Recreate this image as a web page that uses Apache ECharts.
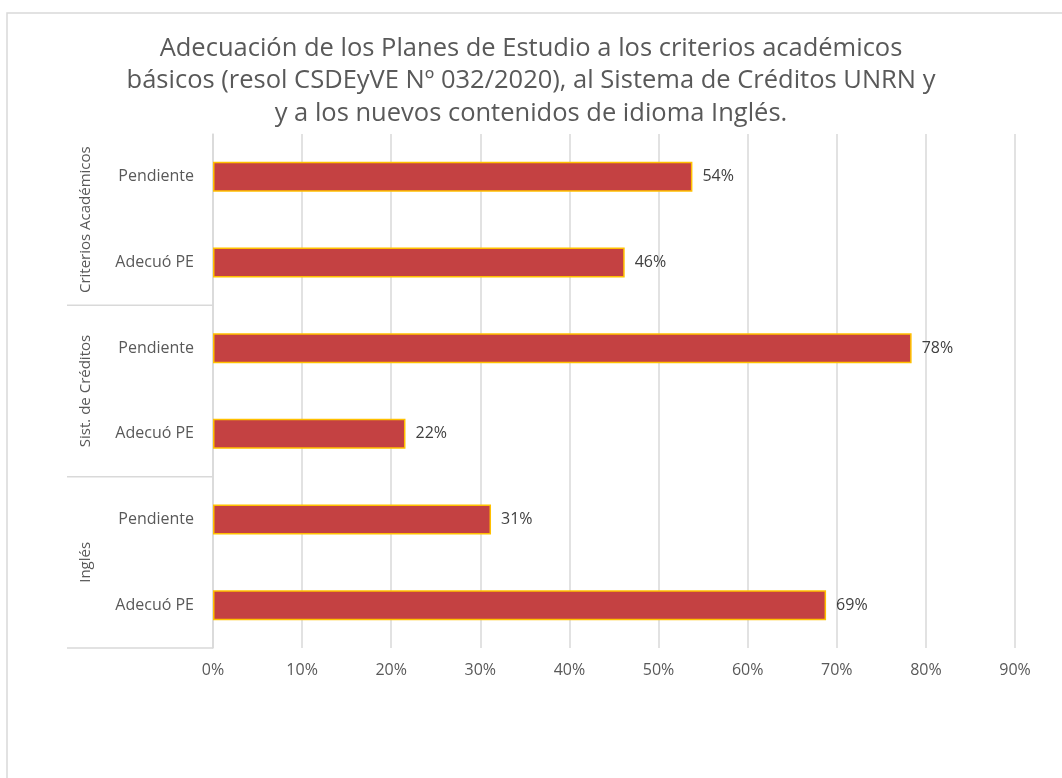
<!doctype html>
<html lang="es">
<head>
<meta charset="UTF-8" />
<title>Adecuación de los Planes de Estudio</title>
<script src="https://cdn.jsdelivr.net/npm/echarts@6/dist/echarts.min.js"></script>
<style>
  html, body { margin: 0; padding: 0; background: #fff; }
  #main { width: 1062px; height: 778px; }
</style>
</head>
<body>
<div id="main"></div>
<script>
// datos (de arriba hacia abajo)
var categorias = ['Pendiente', 'Adecuó PE', 'Pendiente', 'Adecuó PE', 'Pendiente', 'Adecuó PE'];
var grupos = ['Criterios Académicos', 'Sist. de Créditos', 'Inglés'];
var porcentajes = [53.8, 46.2, 78.4, 21.6, 31.2, 68.8];
var ticksX = [0, 10, 20, 30, 40, 50, 60, 70, 80, 90];

var titulo = 'Adecuación de los Planes de Estudio a los criterios académicos\n' +
  'básicos (resol CSDEyVE Nº 032/2020), al Sistema de Créditos UNRN y\n' +
  'y a los nuevos contenidos de idioma Inglés.';

var fuente = 'Open Sans';
var chart = echarts.init(document.getElementById('main'));

// cada categoría con un id único para que el eje no agrupe los repetidos
var catIds = categorias.map(function (c, i) { return i + '|' + c; });

var option = {
  backgroundColor: '#fff',
  animation: false,
  title: {
    text: titulo,
    left: 'center',
    top: 27,
    textStyle: {
      fontFamily: fuente,
      fontSize: 25.5,
      fontWeight: 'normal',
      color: '#595959',
      lineHeight: 32.5
    }
  },
  grid: { left: 213, right: 47, top: 134, bottom: 130, containLabel: false },
  xAxis: {
    type: 'value',
    min: ticksX[0],
    max: ticksX[ticksX.length - 1],
    interval: 10,
    axisLine: { show: false },
    axisTick: { show: false },
    splitLine: { lineStyle: { color: '#d9d9d9', width: 1.5 } },
    axisLabel: {
      margin: 14,
      fontFamily: fuente,
      fontSize: 16,
      color: '#595959',
      formatter: function (v) { return v + '%'; }
    }
  },
  yAxis: {
    type: 'category',
    inverse: true,
    data: catIds,
    axisLine: { show: true, lineStyle: { color: '#d9d9d9', width: 1.5 } },
    axisTick: { show: false },
    axisLabel: {
      margin: 19,
      fontFamily: fuente,
      fontSize: 16,
      color: '#595959',
      formatter: function (v) { return v.split('|')[1]; }
    }
  },
  series: [{
    type: 'bar',
    data: porcentajes,
    barWidth: 30,
    itemStyle: { color: '#c44142', borderColor: '#ffc000', borderWidth: 1.5 },
    label: {
      show: true,
      position: 'right',
      distance: 10,
      fontFamily: fuente,
      fontSize: 16,
      color: '#404040',
      formatter: function (p) { return Math.round(p.value) + '%'; }
    }
  }]
};
chart.setOption(option);

// separadores de grupos y etiquetas rotadas, ubicados con la escala del eje
var ejeX = chart.convertToPixel({ xAxisIndex: 0 }, 0);
var y0 = chart.convertToPixel({ yAxisIndex: 0 }, catIds[0]);
var y1 = chart.convertToPixel({ yAxisIndex: 0 }, catIds[1]);
var banda = y1 - y0;
var graficos = [{
  type: 'rect',
  silent: true,
  shape: { x: 7, y: 13, width: 1100, height: 800 },
  style: { fill: 'none', stroke: '#d9d9d9', lineWidth: 1.5 }
}];
grupos.forEach(function (g, i) {
  var arriba = chart.convertToPixel({ yAxisIndex: 0 }, catIds[i * 2]) - banda / 2;
  var abajo = chart.convertToPixel({ yAxisIndex: 0 }, catIds[i * 2 + 1]) + banda / 2;
  graficos.push({
    type: 'line',
    silent: true,
    shape: { x1: 67, y1: abajo, x2: ejeX, y2: abajo },
    style: { stroke: '#d9d9d9', lineWidth: 1.5 }
  });
  graficos.push({
    type: 'text',
    silent: true,
    x: 86,
    y: (arriba + abajo) / 2,
    rotation: Math.PI / 2,
    style: {
      text: g,
      fontFamily: fuente,
      fontSize: 15,
      fill: '#595959',
      align: 'center',
      verticalAlign: 'middle'
    }
  });
});
chart.setOption({ graphic: graficos });
</script>
</body>
</html>
